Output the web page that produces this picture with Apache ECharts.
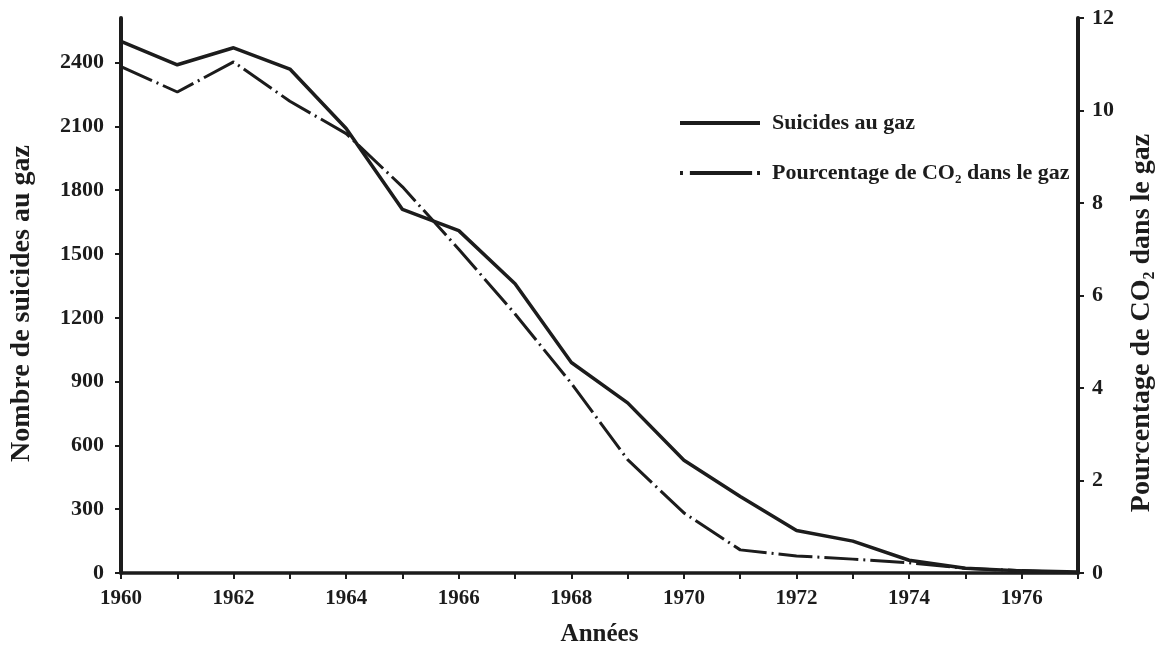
<!DOCTYPE html>
<html>
<head>
<meta charset="utf-8">
<script src="https://cdn.jsdelivr.net/npm/echarts@6/dist/echarts.min.js"></script>
<style>
html,body{margin:0;padding:0;background:#fff;}
#chart{width:1157px;height:647px;}
</style>
</head>
<body>
<div id="chart"></div>
<script>
const years = [1960,1961,1962,1963,1964,1965,1966,1967,1968,1969,1970,1971,1972,1973,1974,1975,1976,1977];
const suicides = [2500,2390,2470,2370,2090,1710,1610,1360,990,800,530,360,200,150,60,22,10,5];
const co2 = [10.95,10.4,11.05,10.2,9.5,8.35,7.0,5.6,4.1,2.45,1.3,0.5,0.37,0.3,0.22,0.1,0.05,0.0];
const leftTicks = [0,300,600,900,1200,1500,1800,2100,2400];
const rightTicks = [0,2,4,6,8,10,12];
const xLabelYears = [1960,1962,1964,1966,1968,1970,1972,1974,1976];

const nameSuicides = 'Suicides au gaz';
const nameCO2 = 'Pourcentage de CO2 dans le gaz';

const FONT = 'Liberation Serif';
const INK = '#1c1c1c';

const chart = echarts.init(document.getElementById('chart'), null, {renderer:'canvas'});
chart.setOption({
  backgroundColor:'#fff',
  animation:false,
  grid:{left:121,right:79,top:18,bottom:74,containLabel:false,outerBoundsMode:'none'},
  legend:{
    orient:'vertical',
    left:675, top:107,
    itemWidth:80, itemHeight:4, itemGap:28,
    data:[
      {name:nameSuicides, icon:'path://M0,0L80,0L80,4L0,4Z'},
      {name:nameCO2, icon:'path://M0,0L3,0L3,4L0,4Z M10,0L73,0L73,4L10,4Z M78,0L81,0L81,4L78,4Z'}
    ],
    formatter:function(n){ return n===nameCO2 ? 'Pourcentage de CO{sub|2} dans le gaz' : n; },
    textStyle:{
      fontFamily:FONT, fontSize:22, fontWeight:'bold', color:INK, padding:[0,0,0,7],
      rich:{ sub:{fontFamily:FONT, fontSize:13, fontWeight:'bold', color:INK, padding:[14,0,0,0]} }
    }
  },
  xAxis:{
    type:'value', min:1960, max:1977, interval:1,
    name:'Années', nameLocation:'middle', nameGap:49,
    nameTextStyle:{fontFamily:FONT, fontSize:25, fontWeight:'bold', color:INK},
    axisLine:{show:true, onZero:false, lineStyle:{color:INK, width:3.5}},
    axisTick:{show:true, length:6, lineStyle:{color:INK, width:2}},
    axisLabel:{
      margin:15, fontFamily:FONT, fontSize:21, fontWeight:'bold', color:INK,
      formatter:function(v){ return xLabelYears.indexOf(v)>=0 ? String(v) : ''; }
    },
    splitLine:{show:false}
  },
  yAxis:[{
    type:'value', min:0, max:2610, interval:300, position:'left',
    name:'Nombre de suicides au gaz', nameLocation:'middle', nameGap:85, nameRotate:90,
    nameTextStyle:{fontFamily:FONT, fontSize:28, fontWeight:'bold', color:INK, padding:[0,16,0,0]},
    axisLine:{show:true, lineStyle:{color:INK, width:4}},
    axisTick:{show:true, length:6, customValues:leftTicks, lineStyle:{color:INK, width:2}},
    axisLabel:{
      margin:17, fontFamily:FONT, fontSize:22, fontWeight:'bold', color:INK, customValues:leftTicks,
      formatter:function(v){ return leftTicks.indexOf(v)>=0 ? String(v) : ''; }
    },
    splitLine:{show:false}
  },{
    type:'value', min:0, max:12, interval:2, position:'right',
    name:'Pourcentage de CO{sub|2} dans le gaz', nameLocation:'middle', nameGap:48, nameRotate:90,
    nameTextStyle:{fontFamily:FONT, fontSize:28, fontWeight:'bold', color:INK, padding:[0,55,0,0],
      rich:{ sub:{fontFamily:FONT, fontSize:16, fontWeight:'bold', color:INK, padding:[16,0,0,0]} }},
    axisLine:{show:true, lineStyle:{color:INK, width:4}},
    axisTick:{show:true, length:6, lineStyle:{color:INK, width:2}},
    axisLabel:{
      margin:14, fontFamily:FONT, fontSize:22, fontWeight:'bold', color:INK,
      formatter:function(v){ return rightTicks.indexOf(v)>=0 ? String(v) : ''; }
    },
    splitLine:{show:false}
  }],
  series:[{
    name:nameSuicides, type:'line', yAxisIndex:0, symbol:'none',
    data: years.map((y,i)=>[y, suicides[i]]),
    lineStyle:{color:INK, width:3.5, type:'solid'},
    itemStyle:{color:INK}, z:3
  },{
    name:nameCO2, type:'line', yAxisIndex:1, symbol:'none',
    data: years.map((y,i)=>[y, co2[i]]),
    lineStyle:{color:INK, width:3, type:[34,5,2,5]},
    itemStyle:{color:INK}, z:2
  }]
});
</script>
</body>
</html>
